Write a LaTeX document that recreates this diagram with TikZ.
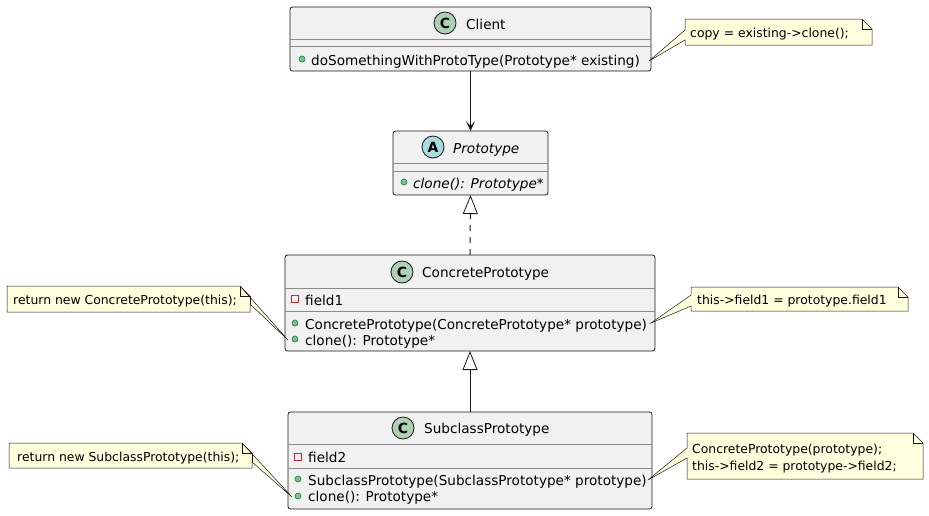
\documentclass[tikz,border=0pt]{standalone}
\usepackage{fontspec}
\setmainfont{DejaVu Sans}
\usetikzlibrary{arrows.meta}
\definecolor{boxfill}{HTML}{F1F1F1}
\definecolor{boxline}{HTML}{181818}
\definecolor{divline}{HTML}{8A8A8A}
\definecolor{notefill}{HTML}{FEFFDD}
\definecolor{cgreen}{HTML}{ADD1B2}
\definecolor{acyan}{HTML}{A9DCDF}
\definecolor{pubfill}{HTML}{84BE84}
\definecolor{publine}{HTML}{038048}
\definecolor{privline}{HTML}{C82930}
\begin{document}
\begin{tikzpicture}[x=1pt,y=-1pt,
  classbox/.style={draw=boxline, fill=boxfill, line width=0.8pt, rounded corners=2.5pt,
    inner sep=0pt, outer sep=0pt, anchor=north west},
  divider/.style={draw=divline, line width=0.8pt},
  memtxt/.style={font=\fontsize{13.6}{16}\selectfont, anchor=base west, inner sep=0pt},
  notetxt/.style={font=\fontsize{12.4}{15}\selectfont, anchor=base west, inner sep=0pt},
  badge/.style={circle, draw=boxline, line width=0.8pt, minimum size=22pt, inner sep=0pt,
    font=\fontsize{14}{14}\selectfont\bfseries},
  pub/.style={circle, draw=publine, fill=pubfill, minimum size=6pt, inner sep=0pt, line width=0.6pt},
  priv/.style={rectangle, draw=privline, minimum size=6.5pt, inner sep=0pt, line width=0.8pt},
  notebox/.style={draw=boxline, fill=notefill, line width=0.5pt, line join=miter},
  notefold/.style={draw=boxline, line width=0.5pt},
  conn/.style={draw=boxline, line width=1pt},
  assoc/.style={conn, -{Stealth[length=10pt, width=9pt, inset=5pt]}},
  inherit/.style={conn, -{Triangle[length=19pt, width=15pt, fill=white, line width=0.8pt]}},
  realize/.style={inherit, dash pattern=on 6pt off 6pt}
]
\useasboundingbox (0,0) rectangle (929,515);

% ---------- Client ----------
\node[classbox, minimum width=361pt, minimum height=64pt] (client) at (290,7) {};
\draw[divider] (290,39) -- (651,39);
\draw[divider] (290,46) -- (651,46);
\node[badge, fill=cgreen] (clientbadge) at (445,23) {C};
\node[memtxt] (clientname) at (466,29) {Client};
\node[pub] (clientdot) at (302,59) {};
\node[memtxt] (clientm1) at (311,65) {doSomethingWithProtoType(Prototype* existing)};

% ---------- Prototype ----------
\node[classbox, minimum width=155pt, minimum height=64pt] (proto) at (393,131) {};
\draw[divider] (393,163) -- (548,163);
\draw[divider] (393,171) -- (548,171);
\node[badge, fill=acyan] (protobadge) at (433,147) {A};
\node[memtxt, font=\fontsize{13.6}{16}\selectfont\itshape] (protoname) at (453,153) {Prototype};
\node[pub] (protodot) at (404,182) {};
\node[memtxt, font=\fontsize{13.6}{16}\selectfont\itshape] (protom1) at (413,188) {clone(): Prototype*};

% ---------- ConcretePrototype ----------
\node[classbox, minimum width=370pt, minimum height=96pt] (concrete) at (285,255) {};
\draw[divider] (285,288) -- (655,288);
\draw[divider] (285,311) -- (655,311);
\node[badge, fill=cgreen] (concbadge) at (402,272) {C};
\node[memtxt] (concname) at (422,277) {ConcretePrototype};
\node[priv] (concpriv) at (295,299) {};
\node[memtxt] (concf1) at (305,305) {field1};
\node[pub] (concdot1) at (295,323) {};
\node[memtxt] (concm1) at (305,329) {ConcretePrototype(ConcretePrototype* prototype)};
\node[pub] (concdot2) at (295,339) {};
\node[memtxt] (concm2) at (305,345) {clone(): Prototype*};

% ---------- SubclassPrototype ----------
\node[classbox, minimum width=364pt, minimum height=97pt] (sub) at (288,412) {};
\draw[divider] (288,444) -- (652,444);
\draw[divider] (288,468) -- (652,468);
\node[badge, fill=cgreen] (subbadge) at (403,428) {C};
\node[memtxt] (subname) at (424,433) {SubclassPrototype};
\node[priv] (subpriv) at (298,457) {};
\node[memtxt] (subf2) at (308,462) {field2};
\node[pub] (subdot1) at (298,479) {};
\node[memtxt] (subm1) at (308,485) {SubclassPrototype(SubclassPrototype* prototype)};
\node[pub] (subdot2) at (298,496) {};
\node[memtxt] (subm2) at (308,501) {clone(): Prototype*};

% ---------- connectors ----------
\draw[assoc] (client.south) -- (proto.north);
\draw[realize] (concrete.north) -- (proto.south);
\draw[inherit] (sub.north) -- (concrete.south);

% ---------- notes ----------
\coordinate (tip1) at (649,61);
\path[notebox] (685,19) -- (862,19) -- (872,29) -- (872,45) -- (685,45) -- (685,40) -- (tip1) -- (685,30) -- cycle;
\draw[notefold] (862,19) -- (862,29) -- (872,29);
\node[notetxt] (note1) at (690,37) {copy = existing->clone();};

\coordinate (tip2) at (288,340);
\path[notebox] (7,286) -- (240,286) -- (tip2) -- (250,304) -- (250,312) -- (7,312) -- cycle;
\draw[notefold] (240,286) -- (240,296) -- (250,296) -- (250,304);
\draw[notefold] (240,286) -- (250,296);
\node[notetxt] (note2) at (13,304) {return new ConcretePrototype(this);};

\coordinate (tip3) at (651,323);
\path[notebox] (691,287) -- (898,287) -- (908,297) -- (908,311) -- (691,311) -- (691,306) -- (tip3) -- (691,295) -- cycle;
\draw[notefold] (898,287) -- (898,297) -- (908,297);
\node[notetxt] (note3) at (697,304) {this->field1 = prototype.field1};

\coordinate (tip4) at (292,497);
\path[notebox] (9,443) -- (242,443) -- (tip4) -- (252,462) -- (252,468) -- (9,468) -- cycle;
\draw[notefold] (242,443) -- (242,453) -- (252,453) -- (252,462);
\draw[notefold] (242,443) -- (252,453);
\node[notetxt] (note4) at (17,461) {return new SubclassPrototype(this);};

\coordinate (tip5) at (648,480);
\path[notebox] (687,433) -- (913,433) -- (923,443) -- (923,479) -- (687,479) -- (687,458) -- (tip5) -- (687,448) -- cycle;
\draw[notefold] (913,433) -- (913,443) -- (923,443);
\node[notetxt] (note5a) at (692,453) {ConcretePrototype(prototype);};
\node[notetxt] (note5b) at (692,470) {this->field2 = prototype->field2;};
\end{tikzpicture}
\end{document}
